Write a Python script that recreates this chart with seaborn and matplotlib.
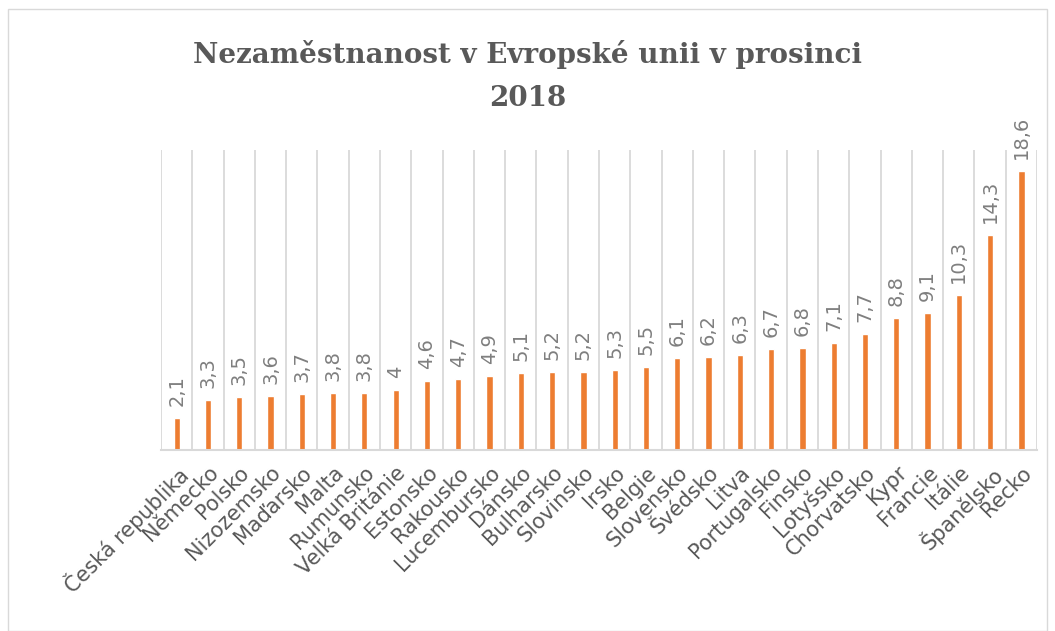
import matplotlib
matplotlib.use("Agg")
import matplotlib.pyplot as plt
import seaborn as sns
import pandas as pd
from matplotlib.patches import Rectangle

countries = ["Česká republika", "Německo", "Polsko", "Nizozemsko", "Maďarsko", "Malta",
             "Rumunsko", "Velká Británie", "Estonsko", "Rakousko", "Lucembursko", "Dánsko",
             "Bulharsko", "Slovinsko", "Irsko", "Belgie", "Slovensko", "Švédsko", "Litva",
             "Portugalsko", "Finsko", "Lotyšsko", "Chorvatsko", "Kypr", "Francie", "Itálie",
             "Španělsko", "Řecko"]
values = [2.1, 3.3, 3.5, 3.6, 3.7, 3.8, 3.8, 4.0, 4.6, 4.7, 4.9, 5.1, 5.2, 5.2, 5.3, 5.5,
          6.1, 6.2, 6.3, 6.7, 6.8, 7.1, 7.7, 8.8, 9.1, 10.3, 14.3, 18.6]
value_labels = ["2,1", "3,3", "3,5", "3,6", "3,7", "3,8", "3,8", "4", "4,6", "4,7", "4,9",
                "5,1", "5,2", "5,2", "5,3", "5,5", "6,1", "6,2", "6,3", "6,7", "6,8", "7,1",
                "7,7", "8,8", "9,1", "10,3", "14,3", "18,6"]
title = "Nezaměstnanost v Evropské unii v prosinci\n2018"

sns.set_theme(style="white")
plt.rcParams['font.family'] = ['DejaVu Sans']

df = pd.DataFrame({"country": countries, "value": values})

fig = plt.figure(figsize=(10.55, 6.31), dpi=100)
ax = fig.add_axes([0.1526, 0.2869, 0.983 - 0.1526, 0.7623 - 0.2869])

sns.barplot(data=df, x="country", y="value", color="#ED7D31", width=0.2,
            saturation=1, ax=ax)

n = len(countries)
ax.set_xlim(-0.5, n - 0.5)
ax.set_ylim(0, 20)
for b in range(n + 1):
    ax.axvline(b - 0.5, color="#d9d9d9", lw=1.3, zorder=0)

for i, (v, lab) in enumerate(zip(values, value_labels)):
    ax.text(i, v + 0.8, lab, rotation=90, ha="center", va="bottom",
            fontsize=14, color="#7f7f7f")

ax.set_yticks([])
ax.set_xlabel("")
ax.set_ylabel("")
for s in ["top", "left", "right"]:
    ax.spines[s].set_visible(False)
ax.spines["bottom"].set_color("#d9d9d9")
ax.spines["bottom"].set_linewidth(1.5)
ax.tick_params(axis="x", length=0, pad=9)
ax.set_xticks(range(n))
ax.set_xticklabels(countries, rotation=45, ha="right", rotation_mode="anchor",
                   fontsize=15, color="#595959")

fig.text(0.5, 0.937, title, ha="center", va="top", fontsize=20,
         fontweight="bold", color="#595959", family=["DejaVu Serif"],
         linespacing=1.75)

fig.patches.append(Rectangle((0.008, 0.0), 0.984, 0.985, transform=fig.transFigure,
                             fill=False, edgecolor="#d9d9d9", lw=1))

fig.savefig("out.png", dpi=100)
